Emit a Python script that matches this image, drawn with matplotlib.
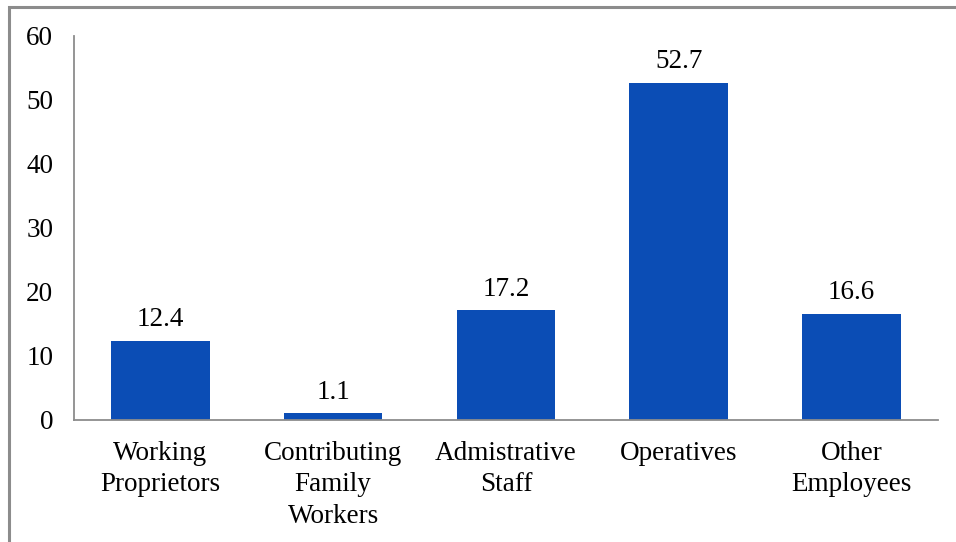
import matplotlib.pyplot as plt
from matplotlib.patches import Rectangle

# share of workers by category (%)
categories = ["Working\nProprietors", "Contributing\nFamily\nWorkers", "Admistrative\nStaff",
              "Operatives", "Other\nEmployees"]
values = [12.4, 1.1, 17.2, 52.7, 16.6]
yticks = [0, 10, 20, 30, 40, 50, 60]

plt.rcParams['font.family'] = ['Liberation Serif', 'DejaVu Serif']
FS = 19.5

fig = plt.figure(figsize=(9.56, 5.42), dpi=100)
ax = fig.add_axes([0.0774, 0.2251, 0.9036, 0.7085])

x = range(len(categories))
ax.bar(x, values, width=0.57, color="#0B4DB5")

for i, v in zip(x, values):
    ax.annotate(f"{v}", (i, v), xytext=(0, 6), textcoords="offset points",
                ha="center", va="bottom", fontsize=FS)

ax.set_xlim(-0.5, len(categories) - 0.5)
ax.set_ylim(0, 60)
ax.set_yticks(yticks)
ax.set_xticks(list(x))
ax.set_xticklabels(categories, fontsize=FS, linespacing=1.35)
ax.tick_params(axis="y", labelsize=FS, length=0, pad=15)
ax.tick_params(axis="x", length=0, pad=15)

for s in ["top", "right"]:
    ax.spines[s].set_visible(False)
for s in ["left", "bottom"]:
    ax.spines[s].set_color("#8C8C8C")
    ax.spines[s].set_linewidth(1.3)

# outer chart border
fig.patches.append(Rectangle((8.5 / 956, -0.05), 1.1, 1.05 - 6.5 / 542,
                             transform=fig.transFigure, fill=False,
                             edgecolor="#8C8C8C", linewidth=2.2))

fig.savefig("out.png", dpi=100)
